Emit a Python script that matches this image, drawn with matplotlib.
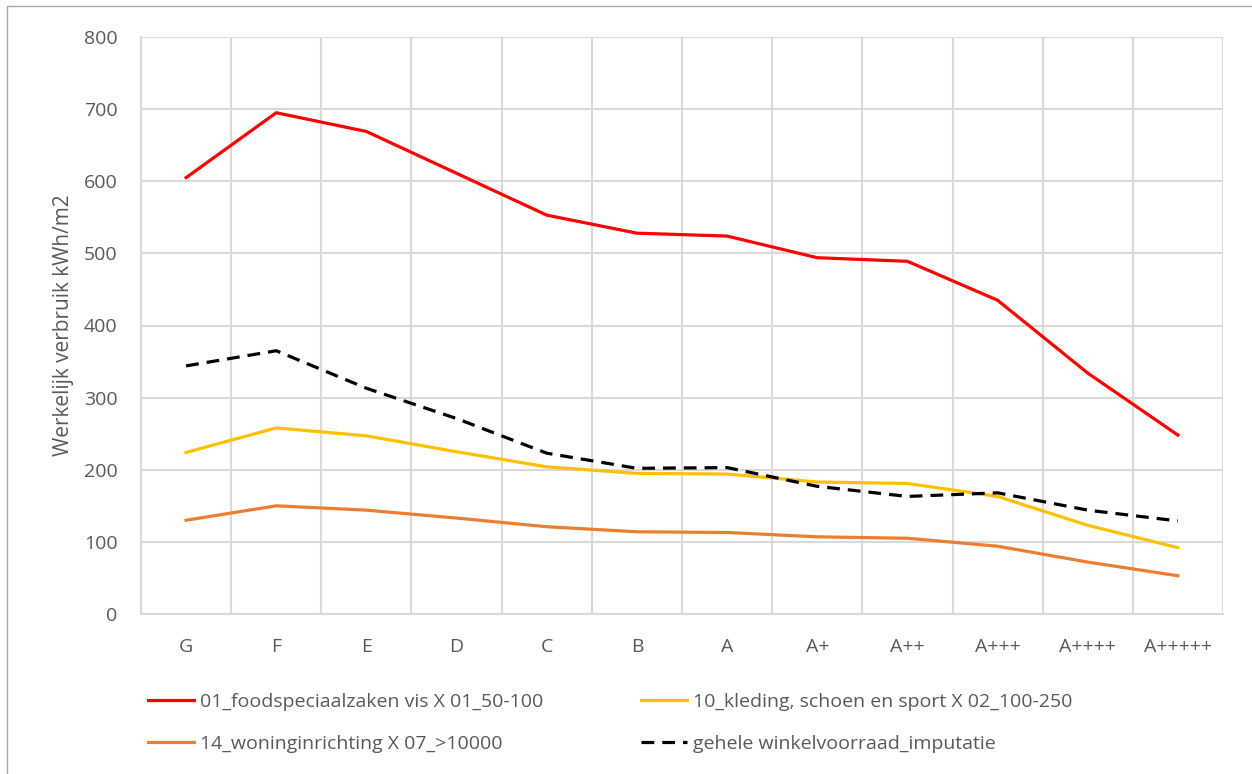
import matplotlib.pyplot as plt
import numpy as np

plt.rcParams['font.family'] = ['Open Sans', 'DejaVu Sans']

labels = ['G', 'F', 'E', 'D', 'C', 'B', 'A', 'A+', 'A++', 'A+++', 'A++++', 'A+++++']
food_vis = [605, 695, 669, 611, 553, 528, 524, 494, 489, 435, 334, 248]
kleding = [224, 258, 247, 225, 204, 195, 194, 183, 181, 163, 123, 92]
woning = [130, 150, 144, 133, 121, 114, 113, 107, 105, 94, 72, 53]
gehele = [344, 365, 313, 271, 223, 202, 203, 177, 163, 168, 144, 129]

names = ['01_foodspeciaalzaken vis X 01_50-100',
         '10_kleding, schoen en sport X 02_100-250',
         '14_woninginrichting X 07_>10000',
         'gehele winkelvoorraad_imputatie']

grey = '#d9d9d9'
txt = '#595959'

fig = plt.figure(figsize=(12.52, 7.74), dpi=100)
ax = fig.add_axes([141 / 1252, 1 - 614 / 774, 1082 / 1252, 577 / 774])

x = np.arange(len(labels))
l1, = ax.plot(x, food_vis, color='#ff0000', lw=2.3)
l2, = ax.plot(x, kleding, color='#ffc000', lw=2.3)
l3, = ax.plot(x, woning, color='#ed7d31', lw=2.3)
l4, = ax.plot(x, gehele, color='black', lw=2.3, dashes=(4, 2.5))

ax.set_xlim(-0.5, len(labels) - 0.5)
ax.set_ylim(0, 800)
ax.set_yticks(range(0, 801, 100))
ax.set_xticks(x)
ax.set_xticklabels(labels)
# gridlines between categories, like excel
ax.set_xticks(np.arange(-0.5, len(labels)), minor=True)
ax.grid(False)
ax.grid(True, axis='y', which='major', color=grey, lw=1.5)
ax.grid(True, axis='x', which='minor', color=grey, lw=1.5)
ax.set_axisbelow(True)
ax.tick_params(axis='both', which='both', length=0, colors=txt, labelsize=14)
ax.tick_params(axis='x', pad=17)
ax.tick_params(axis='y', pad=17)
for s in ['top', 'right']:
    ax.spines[s].set_visible(False)
for s in ['left', 'bottom']:
    ax.spines[s].set_color(grey)
    ax.spines[s].set_linewidth(1.5)

ax.set_ylabel('Werkelijk verbruik kWh/m2', color=txt, fontsize=15, labelpad=7)

leg = fig.legend([l1, l3, l2, l4], [names[0], names[2], names[1], names[3]],
                 ncol=2, loc='upper left', bbox_to_anchor=(0.104, 0.127),
                 frameon=False, fontsize=14, handlelength=2.4, handletextpad=0.3,
                 columnspacing=5.0, labelspacing=1.2, labelcolor=txt)

# outer chart border (only top/left visible in the crop)
fig.add_artist(plt.Rectangle((7 / 1252, -0.02), 1.05, 1 - 6 / 774 + 0.02,
                             transform=fig.transFigure, fill=False,
                             edgecolor='#a6a6a6', lw=1))

fig.savefig('out.png', dpi=100)
